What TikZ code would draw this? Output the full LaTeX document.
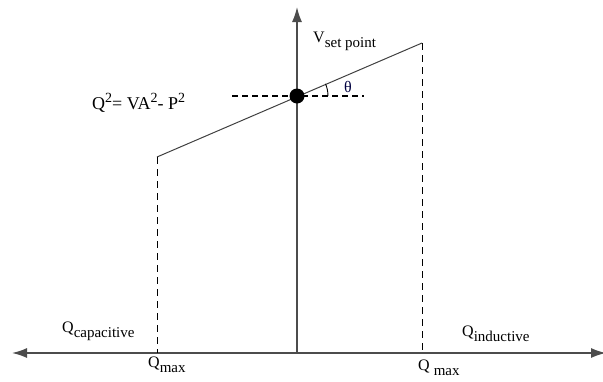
\documentclass[tikz,border=0pt]{standalone}
\usepackage{fontspec}
\setmainfont{Liberation Serif}
\usetikzlibrary{arrows.meta}
\tikzset{
  axisline/.style={line width=1.5pt, draw=black!70, -{Latex[length=15pt, width=10pt]}},
  slopeline/.style={line width=1pt, draw=black!75},
  limitline/.style={line width=1pt, draw=black, dash pattern=on 7pt off 5pt},
  refline/.style={line width=1.4pt, draw=black, dash pattern=on 6pt off 4pt},
  lbl/.style={font=\fontsize{16}{18}\selectfont, inner sep=0pt, anchor=base west},
}
\newcommand{\lowidx}[1]{\raisebox{-5pt}{\fontsize{15}{16}\selectfont #1}}
\newcommand{\highidx}[1]{\raisebox{7pt}{\fontsize{14}{15}\selectfont #1}}
\begin{document}
\begin{tikzpicture}[x=1pt, y=-1pt]
  \useasboundingbox (0,0) rectangle (603,381);

  %% Axes
  \coordinate (origin) at (297,353);
  \coordinate (top)    at (297,7);
  \coordinate (left)   at (12,353);
  \coordinate (right)  at (606,353);
  \draw[axisline] (origin) -- (top);
  \draw[axisline] (origin) -- (left);
  \draw[axisline] (origin) -- (right);

  %% Droop characteristic
  \coordinate (kneeL) at (157,157);
  \coordinate (kneeR) at (422,43);
  \coordinate (baseL) at (157,353);
  \coordinate (baseR) at (422,353);
  \draw[slopeline] (kneeL) -- (kneeR);
  \draw[limitline] (kneeL) -- (baseL);
  \draw[limitline] (kneeR) -- (baseR);

  %% Operating point
  \node[circle, fill=black, inner sep=0pt, minimum size=15pt] (dot) at (297,96) {};
  \coordinate (dashL) at (232,96);
  \coordinate (dashR) at (364,96);
  \draw[refline] (dashL) -- (dashR);
  \draw[line width=0.9pt] (dot.center) ++(31,0) arc[start angle=0, end angle=-23, radius=31];

  %% Labels
  \node[lbl] (vset) at (313,42) {V\lowidx{set point}};
  \node[lbl, font=\fontsize{18}{20}\selectfont] (eqn) at (92,109) {Q\highidx{2}= VA\highidx{2}- P\highidx{2}};
  \node[lbl, text=black!75!blue] (theta) at (344,92) {θ};
  \node[lbl] (qcap) at (62,332) {Q\lowidx{capacitive}};
  \node[lbl] (qind) at (462,336) {Q\lowidx{inductive}};
  \node[lbl] (qmaxL) at (148,367) {Q\lowidx{max}};
  \node[lbl] (qmaxR) at (418,370) {Q \lowidx{max}};
\end{tikzpicture}
\end{document}
